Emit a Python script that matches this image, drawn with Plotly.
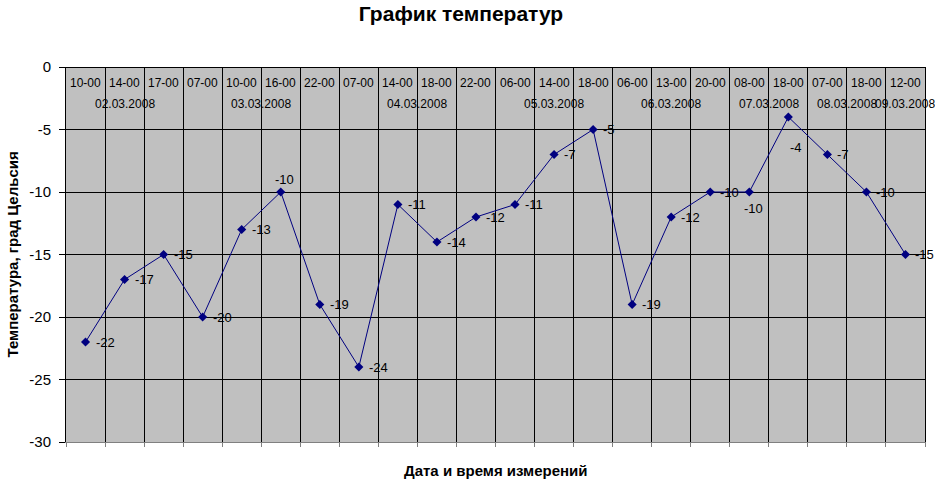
import plotly.graph_objects as go

# measurement times and temperatures (deg C)
times = ["10-00", "14-00", "17-00", "07-00", "10-00", "16-00", "22-00", "07-00",
         "14-00", "18-00", "22-00", "06-00", "14-00", "18-00", "06-00", "13-00",
         "20-00", "08-00", "18-00", "07-00", "18-00", "12-00"]
temps = [-22, -17, -15, -20, -13, -10, -19, -24, -11, -14, -12, -11, -7, -5,
         -19, -12, -10, -10, -4, -7, -10, -15]

# dates and how many measurements fall on each
dates = ["02.03.2008", "03.03.2008", "04.03.2008", "05.03.2008",
         "06.03.2008", "07.03.2008", "08.03.2008", "09.03.2008"]
date_counts = [3, 4, 4, 3, 3, 2, 2, 1]

y_ticks = [0, -5, -10, -15, -20, -25, -30]

FONT = "Liberation Sans, Arial, sans-serif"
xs = [i + 0.5 for i in range(len(temps))]

fig = go.Figure()
fig.add_trace(go.Scatter(
    x=xs, y=temps, mode="lines+markers",
    line=dict(color="#000080", width=1),
    marker=dict(symbol="diamond", size=7, color="#000080"),
    cliponaxis=False, showlegend=False, hoverinfo="skip",
))

# data labels: right of the point, except a few that Excel moved
moved = {5: ("center", 4, 13), 17: ("center", 4, -16), 18: ("center", 8, -30)}
for i, (x, t) in enumerate(zip(xs, temps)):
    anchor, dx, dy = moved.get(i, ("left", 8, 0))
    fig.add_annotation(x=x, y=t, xref="x", yref="y", text=str(t), showarrow=False,
                       xanchor=anchor, yanchor="middle", xshift=dx, yshift=dy,
                       font=dict(family=FONT, size=13, color="black"))

# time labels along the top of the plot area
for x, t in zip(xs, times):
    fig.add_annotation(x=x, y=1, xref="x", yref="paper", text=t, showarrow=False,
                       yanchor="top", yshift=-7,
                       font=dict(family=FONT, size=12, color="black"))

# date labels centred under their group of times
start = 0
for d, n in zip(dates, date_counts):
    fig.add_annotation(x=start + n / 2, y=1, xref="x", yref="paper", text=d,
                       showarrow=False, yanchor="top", yshift=-28,
                       font=dict(family=FONT, size=12, color="black"))
    start += n

# axis titles
fig.add_annotation(x=0.5, y=-0.075, xref="paper", yref="paper",
                   text="<b>Дата и время измерений</b>", showarrow=False,
                   yanchor="middle", font=dict(family=FONT, size=15, color="black"))
fig.add_annotation(x=-0.0617, y=0.5, xref="paper", yref="paper",
                   text="<b>Температура, град Цельсия</b>", showarrow=False,
                   textangle=-90, xanchor="center",
                   font=dict(family=FONT, size=15, color="black"))

fig.update_layout(
    width=935, height=480,
    margin=dict(l=66, r=10, t=67, b=38),
    paper_bgcolor="white", plot_bgcolor="#C0C0C0",
    title=dict(text="<b>График температур</b>", x=0.493, xanchor="center",
               xref="container", yref="container", y=0.986, yanchor="top",
               font=dict(family=FONT, size=21, color="black")),
    font=dict(family=FONT, color="black"),
)
fig.update_xaxes(
    range=[0, len(temps)], tickvals=list(range(len(temps) + 1)),
    showticklabels=False, showgrid=True, gridcolor="black", gridwidth=1,
    ticks="outside", ticklen=4, tickcolor="#808080",
    showline=True, linecolor="#808080", zeroline=False, automargin=False,
)
fig.update_yaxes(
    range=[-30, 0], tickvals=y_ticks, ticktext=[str(v) for v in y_ticks],
    tickfont=dict(family=FONT, size=15, color="black"),
    showgrid=True, gridcolor="black", gridwidth=1,
    zeroline=True, zerolinecolor="black", zerolinewidth=1,
    ticks="outside", ticklen=6, tickcolor="black", ticklabelstandoff=5,
    showline=True, linecolor="black", mirror=True, automargin=False,
)

# the page's default body margin would shift the figure by 8px
fig.write_html("out.html", config={"displayModeBar": False},
               post_script="document.body.style.margin='0';")
